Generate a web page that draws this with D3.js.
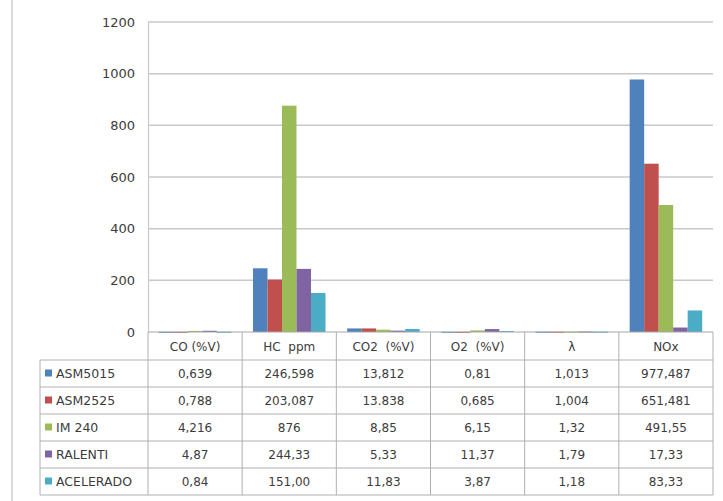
<!DOCTYPE html>
<html>
<head>
    <meta charset="UTF-8">
    <script src="https://cdn.jsdelivr.net/npm/d3@7"></script>
    <title>Emisiones</title>
    <style>
        body { margin: 0; background: #fff; }
        text { font-family: 'DejaVu Sans', sans-serif; fill: #3c3c3c; }
    </style>
</head>
<body>
    <div id="chart"></div>
    <script>
// data
        const categories = ["CO (%V)", "HC  ppm", "CO2  (%V)", "O2  (%V)", "\u03bb", "NOx"];
        const seriesNames = ["ASM5015", "ASM2525", "IM 240", "RALENTI", "ACELERADO"];
        const colors = ["#4f81bd", "#c0504d", "#9bbb59", "#8064a2", "#4bacc6"];

        const asm5015 = [0.639, 246.598, 13.812, 0.81, 1.013, 977.487];
        const asm2525 = [0.788, 203.087, 13.838, 0.685, 1.004, 651.481];
        const im240 = [4.216, 876, 8.85, 6.15, 1.32, 491.55];
        const ralenti = [4.87, 244.33, 5.33, 11.37, 1.79, 17.33];
        const acelerado = [0.84, 151.00, 11.83, 3.87, 1.18, 83.33];

        // cell texts as printed in the table
        const asm5015Txt = ["0,639", "246,598", "13,812", "0,81", "1,013", "977,487"];
        const asm2525Txt = ["0,788", "203,087", "13.838", "0,685", "1,004", "651,481"];
        const im240Txt = ["4,216", "876", "8,85", "6,15", "1,32", "491,55"];
        const ralentiTxt = ["4,87", "244,33", "5,33", "11,37", "1,79", "17,33"];
        const aceleradoTxt = ["0,84", "151,00", "11,83", "3,87", "1,18", "83,33"];

        const yTicks = [0, 200, 400, 600, 800, 1000, 1200];

        const series = [asm5015, asm2525, im240, ralenti, acelerado];
        const seriesTxt = [asm5015Txt, asm2525Txt, im240Txt, ralentiTxt, aceleradoTxt];

        const width = 723, height = 501;
        const plot = {left: 148, right: 713, top: 22, bottom: 332};
        const legendLeft = 40;
        const headerH = 27, rowH = 27;

        const svg = d3.select("#chart").append("svg")
            .attr("width", width)
            .attr("height", height);

        svg.append("rect").attr("width", width).attr("height", height).attr("fill", "#fff");

        // outer frame edge on the left
        svg.append("line")
            .attr("x1", 12).attr("x2", 12).attr("y1", 0).attr("y2", height)
            .attr("stroke", "#cfcfcf").attr("stroke-width", 1.5);

        const x0 = d3.scaleBand()
            .domain(categories)
            .range([plot.left, plot.right])
            .padding(0);
        const gap = x0.bandwidth() * 0.115;
        const x1 = d3.scaleBand()
            .domain(seriesNames)
            .range([gap, x0.bandwidth() - gap]);
        const y = d3.scaleLinear()
            .domain([0, 1200])
            .range([plot.bottom, plot.top]);

        // gridlines
        svg.append("g")
            .selectAll("line")
            .data(yTicks.filter(d => d > 0))
            .enter()
            .append("line")
            .attr("x1", plot.left).attr("x2", plot.right)
            .attr("y1", d => y(d)).attr("y2", d => y(d))
            .attr("stroke", "#c8c8c8").attr("stroke-width", 1.5);

        // y axis
        const yAxis = svg.append("g")
            .attr("transform", `translate(${plot.left},0)`)
            .call(d3.axisLeft(y).tickValues(yTicks).tickFormat(d3.format("d")).tickSize(0).tickPadding(13));
        yAxis.select(".domain").attr("stroke", "#c8c8c8").attr("stroke-width", 1.2);
        yAxis.selectAll("text")
            .style("font-family", "'DejaVu Sans', sans-serif")
            .style("font-size", "13px")
            .attr("fill", "#3c3c3c");

        // bars
        series.forEach((vals, si) => {
            svg.append("g")
                .selectAll("rect")
                .data(vals)
                .enter()
                .append("rect")
                .attr("x", (d, i) => x0(categories[i]) + x1(seriesNames[si]))
                .attr("width", x1.bandwidth())
                .attr("y", d => y(d))
                .attr("height", d => Math.max(y(0) - y(d), 1))
                .attr("fill", colors[si]);
        });

        // x axis line
        svg.append("line")
            .attr("x1", plot.left).attr("x2", plot.right)
            .attr("y1", y(0)).attr("y2", y(0))
            .attr("stroke", "#a6a6a6").attr("stroke-width", 1.2);

        // data table
        const tableTop = plot.bottom + 1;
        const bodyTop = tableTop + headerH;
        const tableBottom = bodyTop + rowH * seriesNames.length;
        const border = "#b0b0b0";
        const tbl = svg.append("g");

        // horizontal rules
        tbl.selectAll("line.h")
            .data(d3.range(seriesNames.length + 1))
            .enter()
            .append("line")
            .attr("x1", legendLeft).attr("x2", plot.right)
            .attr("y1", i => bodyTop + i * rowH).attr("y2", i => bodyTop + i * rowH)
            .attr("stroke", border).attr("stroke-width", 1);

        // vertical rules between categories
        tbl.selectAll("line.v")
            .data(categories.concat(["end"]))
            .enter()
            .append("line")
            .attr("x1", d => d === "end" ? plot.right : x0(d))
            .attr("x2", d => d === "end" ? plot.right : x0(d))
            .attr("y1", tableTop - 1).attr("y2", tableBottom)
            .attr("stroke", border).attr("stroke-width", 1);

        tbl.append("line")
            .attr("x1", legendLeft).attr("x2", legendLeft)
            .attr("y1", bodyTop).attr("y2", tableBottom)
            .attr("stroke", border).attr("stroke-width", 1);

        // header
        tbl.selectAll("text.head")
            .data(categories)
            .enter()
            .append("text")
            .attr("x", d => x0(d) + x0.bandwidth() / 2)
            .attr("y", tableTop + headerH / 2)
            .attr("text-anchor", "middle")
            .attr("dominant-baseline", "central")
            .style("font-size", "12px")
            .style("white-space", "pre")
            .text(d => d);

        // legend keys and names, then the cells
        seriesNames.forEach((name, si) => {
            const cy = bodyTop + si * rowH + rowH / 2;
            tbl.append("rect")
                .attr("x", 45).attr("y", cy - 4)
                .attr("width", 7).attr("height", 7)
                .attr("fill", colors[si]);
            tbl.append("text")
                .attr("x", 56).attr("y", cy)
                .attr("dominant-baseline", "central")
                .style("font-size", "12.5px")
                .text(name);
            tbl.selectAll(null)
                .data(seriesTxt[si])
                .enter()
                .append("text")
                .attr("x", (d, i) => x0(categories[i]) + x0.bandwidth() / 2)
                .attr("y", cy)
                .attr("text-anchor", "middle")
                .attr("dominant-baseline", "central")
                .style("font-size", "12px")
                .text(d => d);
        });
    </script>
</body>
</html>
